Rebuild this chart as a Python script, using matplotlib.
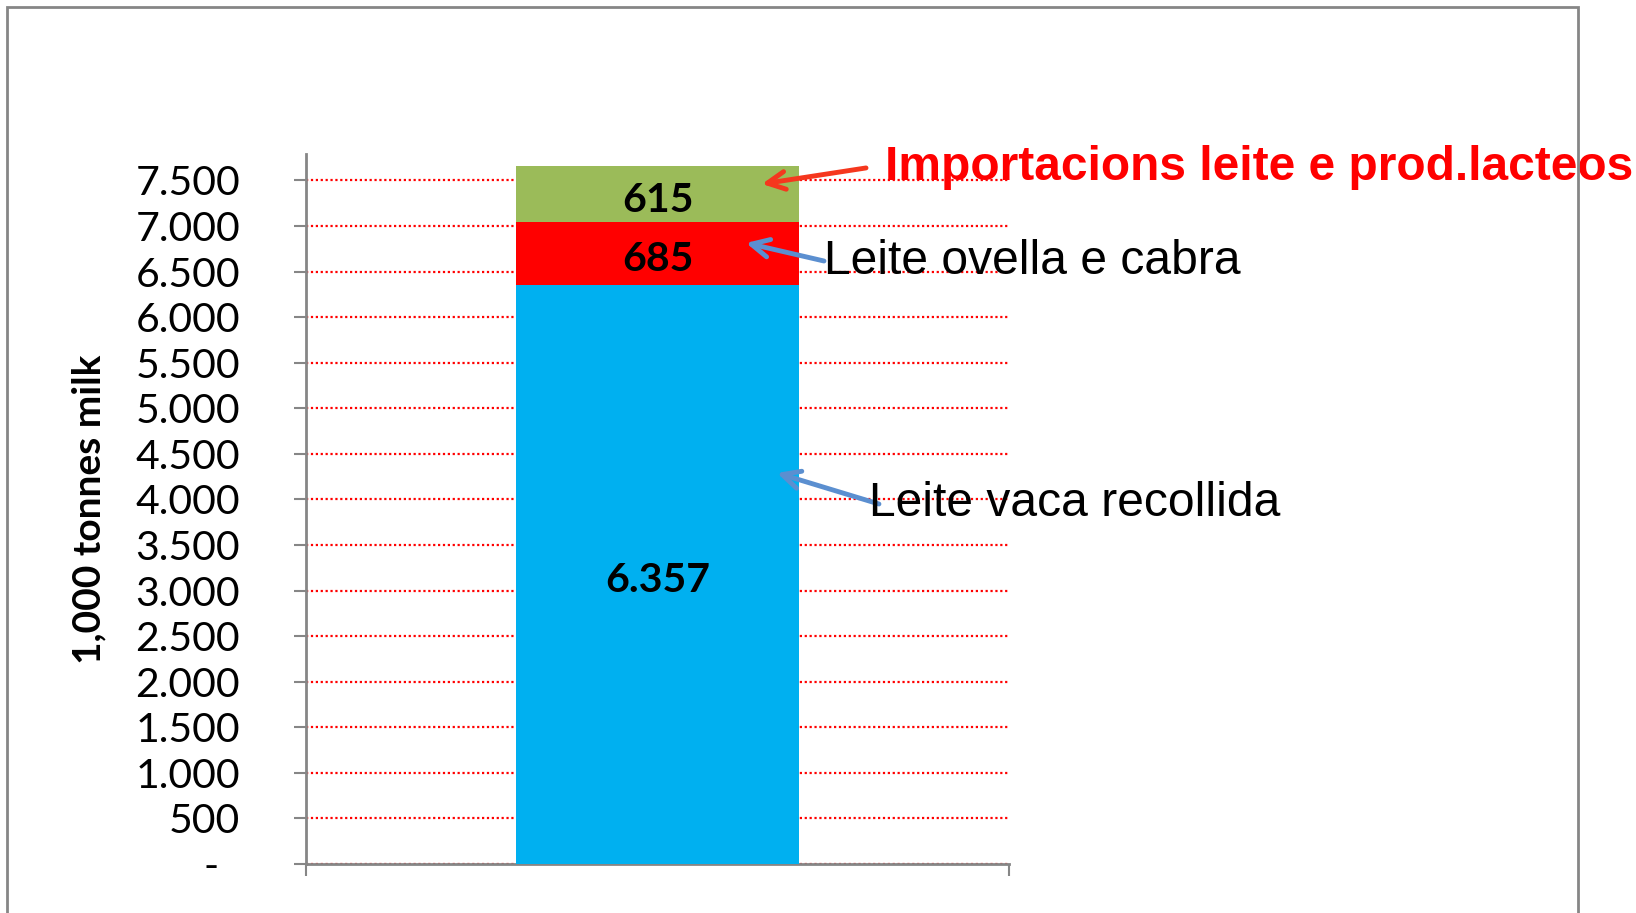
import matplotlib
matplotlib.use("Agg")
import matplotlib.pyplot as plt
from matplotlib import font_manager
from matplotlib.patches import Rectangle

# data
segments = ["Leite vaca recollida", "Leite ovella e cabra", "Importacions leite e prod.lacteos"]
values = [6357, 685, 615]
seg_labels = ["6.357", "685", "615"]
colors = ["#00B0F0", "#FF0000", "#9BBB59"]
yticks = list(range(0, 8000, 500))
ytick_labels = ["-  "] + [f"{v:,}".replace(",", ".") for v in yticks[1:]]

plt.rcParams["font.family"] = ["Lato", "DejaVu Sans"]

names = {f.name for f in font_manager.fontManager.ttflist}
narrow = "Liberation Sans Narrow" in names
red_family = "Liberation Sans Narrow" if narrow else "Liberation Sans"
red_size = 42 if narrow else 34.5

fig = plt.figure(figsize=(16.36, 9.13), dpi=100)
ax = fig.add_axes([306 / 1636, 49 / 913, 703 / 1636, (864 - 154) / 913])

bottom = 0
for val, lab, col in zip(values, seg_labels, colors):
    ax.bar(0, val, width=0.402, bottom=bottom, color=col, zorder=3)
    ax.text(0, bottom + val / 2 - 70, lab, ha="center", va="center",
            fontsize=29.5, fontweight="bold", color="black", zorder=4)
    bottom += val

ax.set_xlim(-0.5, 0.5)
ax.set_ylim(0, 7790)
ax.set_yticks(yticks)
ax.set_yticklabels(ytick_labels)
ax.set_xticks([-0.5, 0.5])
ax.set_xticklabels([])
ax.tick_params(axis="y", length=8.5, width=1.5, color="#868686", labelsize=29.5, pad=39)
ax.tick_params(axis="x", length=8.5, width=1.5, color="#868686", direction="out")

ax.yaxis.grid(True, color="#FF0000", linestyle=(0, (1, 1.2)), linewidth=1.6, zorder=1)
ax.set_axisbelow(True)
for s in ["top", "right"]:
    ax.spines[s].set_visible(False)
for s in ["left", "bottom"]:
    ax.spines[s].set_color("#868686")
    ax.spines[s].set_linewidth(2)

ax.set_ylabel("1,000 tonnes milk", fontsize=28, fontweight="bold")
ax.yaxis.set_label_coords(-0.2845, 0.5)

# annotations: arrows then texts
arrows = [
    ((0.1486, 7461), (0.2966, 7637), "#F5371E"),
    ((0.1259, 6814), (0.2368, 6616), "#5B8FD0"),
    ((0.170, 4290), (0.315, 3950), "#5B8FD0"),
]
for tip, tail, col in arrows:
    ax.annotate("", xy=tip, xytext=tail,
                arrowprops=dict(arrowstyle="->", color=col, lw=3.5, mutation_scale=32,
                                shrinkA=0, shrinkB=0),
                annotation_clip=False, zorder=5)

ax.text(0.324, 7640, segments[2], fontsize=red_size, fontweight="bold", color="#FF0000",
        family=red_family, va="center", ha="left", clip_on=False)
ax.text(0.2368, 6615, segments[1], fontsize=34.6, color="black",
        family="Liberation Sans", va="center", ha="left", clip_on=False, zorder=6)
ax.text(0.301, 3960, segments[0], fontsize=34.6, color="black",
        family="Liberation Sans", va="center", ha="left", clip_on=False, zorder=6)

# outer frame
fig.patches.append(Rectangle((7 / 1636, -0.1), (1578 - 7) / 1636, 1.1 - 7 / 913,
                             transform=fig.transFigure, fill=False,
                             edgecolor="#868686", linewidth=2))

fig.savefig("out.png", dpi=100)
